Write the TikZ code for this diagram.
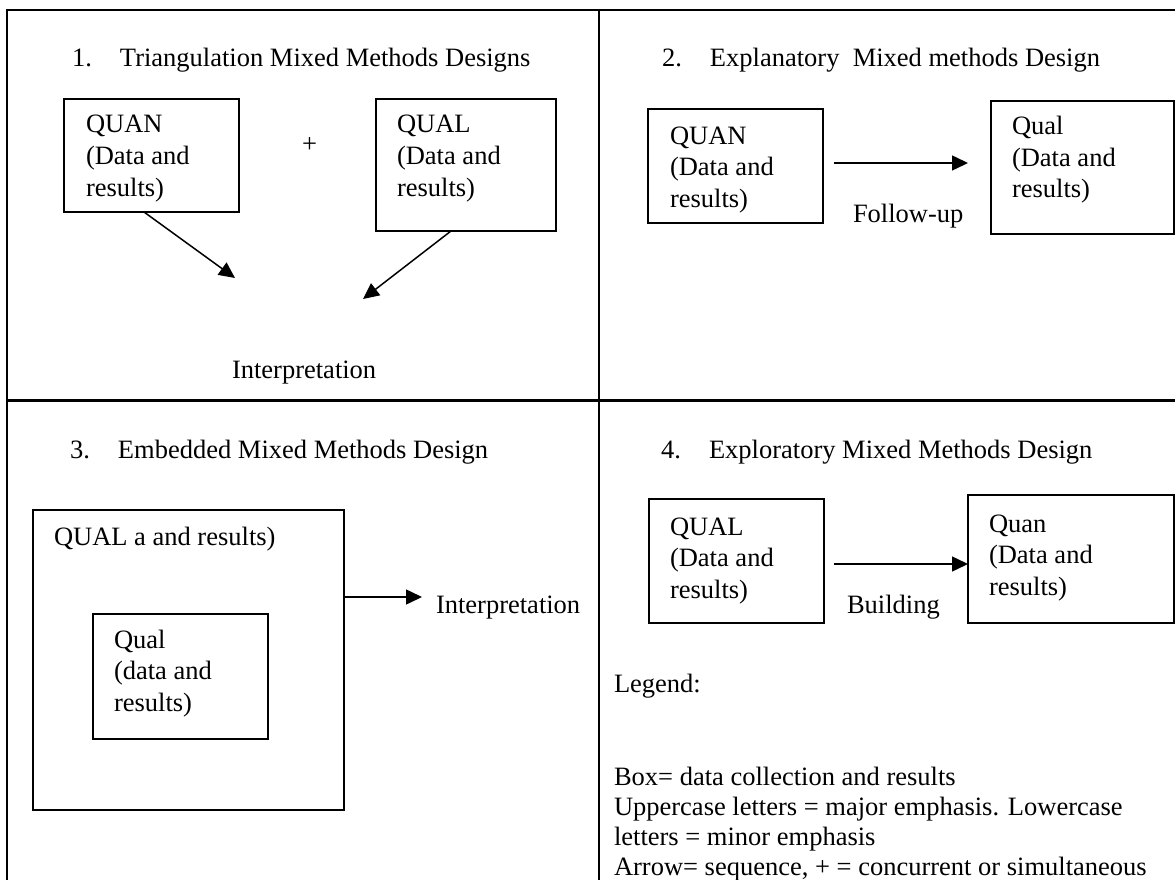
\documentclass[tikz,border=0pt]{standalone}
\usepackage{fontspec}
\setmainfont{Liberation Serif}
\usetikzlibrary{arrows.meta,calc}
\newcommand\mystack[1]{\vtop{\halign{##\hfil\cr#1\crcr}}}
\begin{document}
\begin{tikzpicture}[x=1pt,y=-1pt,
  every node/.style={inner sep=0pt, outer sep=0pt},
  txt/.style={anchor=base west, font=\fontsize{26.5pt}{31.5pt}\selectfont},
  box/.style={draw, line width=1.4pt, anchor=north west, inner sep=0pt},
  frame/.style={line width=2.6pt},
  arr/.style={line width=1.5pt, -{Triangle[length=16pt,width=15pt]}}]
\clip (0,0) rectangle (1175,880);
\fill[white] (0,0) rectangle (1175,880);
% frame
\draw[frame] (7,900) -- (7,10) -- (1190,10);
\draw[frame] (599,10) -- (599,900);
\draw[frame] (7,400.5) -- (1190,400.5);
% panel 1
\node[txt] (h1) at (72,67) {\makebox[48pt][l]{1.}Triangulation Mixed Methods Designs};
\node[box, minimum width=175pt, minimum height=113pt] (p1a) at (64,99) {};
\node[txt] (p1at) at (86,133) {\mystack{QUAN\cr(Data and\cr results)}};
\node[box, minimum width=180pt, minimum height=132pt] (p1b) at (376,99) {};
\node[txt] (p1bt) at (397,133) {\mystack{QUAL\cr(Data and\cr results)}};
\node[txt] (plus) at (302,153) {+};
\coordinate (p1c1) at (235,278);
\coordinate (p1c2) at (363,299);
\draw[arr] ($(p1a.south west)+(80,0)$) -- (p1c1);
\draw[arr] ($(p1b.south west)+(75,0)$) -- (p1c2);
\node[txt] (p1i) at (232,378) {Interpretation};
% panel 2
\node[txt] (h2) at (662,67) {\makebox[48pt][l]{2.}Explanatory\ \ Mixed methods Design};
\node[box, minimum width=175pt, minimum height=114pt] (p2a) at (648,109) {};
\node[txt] (p2at) at (670,144) {\mystack{QUAN\cr(Data and\cr results)}};
\node[box, minimum width=183pt, minimum height=133pt] (p2b) at (991,101) {};
\node[txt] (p2bt) at (1012,135) {\mystack{Qual\cr(Data and\cr results)}};
\coordinate (p2e) at (968,163);
\draw[arr] ($(p2a.east)+(11,-3)$) -- (p2e);
\node[txt] (p2f) at (853,222) {Follow-up};
% panel 3
\node[txt] (h3) at (70,458) {\makebox[48pt][l]{3.}Embedded Mixed Methods Design};
\node[box, minimum width=311pt, minimum height=300pt] (p3a) at (33,510) {};
\node[txt] (p3at) at (54,545) {QUAL a and results)};
\node[box, minimum width=175pt, minimum height=125pt] (p3b) at (93,614) {};
\node[txt] (p3bt) at (114,648) {\mystack{Qual\cr(data and\cr results)}};
\node[txt] (p3i) at (436,613) {Interpretation};
\draw[arr] ($(p3a.north east)+(0,87)$) -- ($(p3a.north east)+(78,87)$);
% panel 4
\node[txt] (h4) at (661,458) {\makebox[48pt][l]{4.}Exploratory Mixed Methods Design};
\node[box, minimum width=175pt, minimum height=124pt] (p4a) at (649,499) {};
\node[txt] (p4at) at (670,535) {\mystack{QUAL\cr(Data and\cr results)}};
\node[box, minimum width=206pt, minimum height=128pt] (p4b) at (968,495) {};
\node[txt] (p4bt) at (989,532) {\mystack{Quan\cr(Data and\cr results)}};
\draw[arr] ($(p4a.east)+(10,3)$) coordinate (s4) -- (s4 -| p4b.west);
\node[txt] (p4f) at (847,613) {Building};
\node[txt] (leg) at (614,692) {Legend:};
\node[txt, font=\fontsize{26.5pt}{30pt}\selectfont] (legt) at (614,785) {\mystack{Box= data collection and results\cr Uppercase letters = major emphasis. Lowercase\cr letters = minor emphasis\cr Arrow= sequence, + = concurrent or simultaneous}};
\end{tikzpicture}
\end{document}
